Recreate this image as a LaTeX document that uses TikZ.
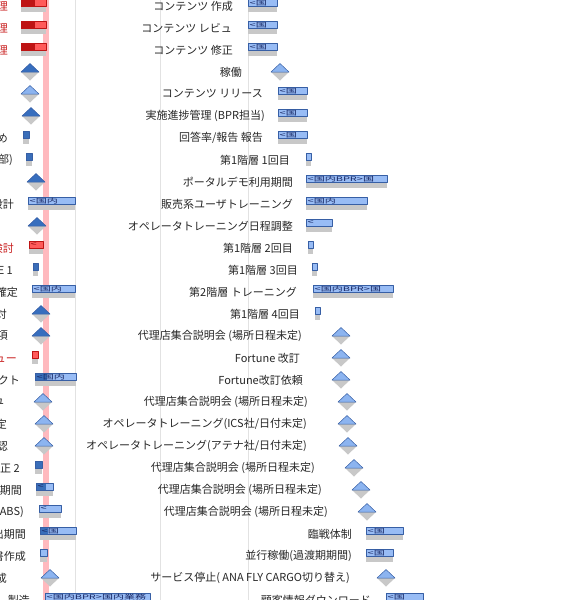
\documentclass[tikz,border=0pt]{standalone}
\usepackage{fontspec}
\newfontfamily\jpfont{Noto Sans CJK JP}
\usepackage{tikz}
\usetikzlibrary{calc}

\definecolor{barfill}{RGB}{152,188,245}
\definecolor{bardark}{RGB}{58,110,185}
\definecolor{barline}{RGB}{55,95,165}
\definecolor{bartext}{RGB}{25,40,100}
\definecolor{msfill}{RGB}{140,180,240}
\definecolor{msdark}{RGB}{55,110,190}
\definecolor{shadowgray}{RGB}{200,200,200}
\definecolor{redfill}{RGB}{255,90,90}
\definecolor{reddark}{RGB}{190,20,20}
\definecolor{labelred}{RGB}{200,30,30}
\definecolor{todayline}{RGB}{255,185,190}
\definecolor{gridline}{RGB}{226,226,226}

\begin{document}
\begin{tikzpicture}[x=1pt, y=-1pt, line join=round,
	lbl/.style={font=\jpfont\fontsize{11}{13}\selectfont, text=black!85, anchor=east, inner sep=0pt},
	redlbl/.style={lbl, text=labelred},
	bartxt/.style={font=\jpfont\fontsize{11}{11}\selectfont, text=bartext, anchor=west, inner sep=0pt},
	shadow/.style={fill=shadowgray},
	mslight/.style={fill=msfill, draw=barline, line width=0.5pt},
	msdeep/.style={fill=msdark, draw=barline, line width=0.5pt}]
				\useasboundingbox (0,0) rectangle (574,600);
				\clip (0,0) rectangle (574,600);
				
				% today line and grid
				\fill[todayline] (42.5,0) rectangle (48.5,600);
				\foreach \gx in {75,160,248} \draw[gridline, line width=1pt] (\gx,0) -- (\gx,600);
				
				% task names, middle column
				\foreach \r/\xe/\txt in {1/233/{コンテンツ 作成}, 2/232/{コンテンツ レビュ},
					3/233/{コンテンツ 修正}, 4/242/{稼働}, 5/263/{コンテンツ リリース},
					6/265/{実施進捗管理 (BPR担当)}, 7/263/{回答率/報告 報告}, 8/290/{第1階層 1回目},
					9/293/{ポータルデモ利用期間}, 10/293/{販売系ユーザトレーニング},
					11/293/{オペレータトレーニング日程調整}, 12/293/{第1階層 2回目},
					13/298/{第1階層 3回目}, 14/297/{第2階層 トレーニング}, 15/300/{第1階層 4回目},
					16/302/{代理店集合説明会 (場所日程未定)}, 17/300/{Fortune 改訂},
					18/303/{Fortune改訂依頼}, 19/308/{代理店集合説明会 (場所日程未定)},
					20/307/{オペレータトレーニング(ICS社/日付未定)},
					21/307/{オペレータトレーニング(アテナ社/日付未定)},
					22/315/{代理店集合説明会 (場所日程未定)}, 23/322/{代理店集合説明会 (場所日程未定)},
					24/328/{代理店集合説明会 (場所日程未定)}, 25/352/{臨戦体制},
					26/352/{並行稼働(過渡期期間)}, 27/350/{サービス停止( ANA FLY CARGO切り替え)},
					28/371/{顧客情報ダウンロード}}
					\node[lbl] (m\r) at (\xe,{6+22*(\r-1)}) {\txt};
				
				% task names, left column (cut at the edge)
				\foreach \r/\xe/\txt in {7/8/め, 8/13/{部)}, 10/14/設計, 13/13/{E 1}, 14/18/確定,
					15/7/対, 16/8/項, 18/20/クト, 19/5/ュ, 20/7/定, 21/8/認, 22/20/{正 2},
					23/22/期間, 24/24/{(ABS)}, 25/26/出期間, 26/26/書作成, 27/7/成, 28/30/製造}
					\node[lbl] (s\r) at (\xe,{6+22*(\r-1)}) {\txt};
				\foreach \r/\xe/\txt in {1/8/理, 2/8/理, 3/8/理, 12/14/検討, 17/17/ビュー}
					\node[redlbl] (s\r) at (\xe,{6+22*(\r-1)}) {\txt};
				
				% blue bars: name/row/start/progress/end/text
				\foreach \nm/\r/\xa/\xp/\xb/\txt in {c1/1/248/248/277/{<国}, c2/2/248/248/277/{<国},
					c3/3/248/248/277/{<国}, c5/5/278/278/307/{<国}, c6/6/278/278/307/{<国},
					c7/7/278/278/307/{<国}, c8/8/306/306/311/{}, c9/9/306/306/387/{<国内BPR>国},
					c10/10/306/306/367/{<国内}, c11/11/306/306/332/{<}, c12/12/308/308/313/{},
					c13/13/312/312/317/{}, c14/14/313/313/393/{<国内BPR>国}, c15/15/315/315/320/{},
					c25/25/366/366/403/{<国}, c26/26/366/366/393/{<国}, c28/28/386/386/423/{<国},
					a7/7/23/29/29/{}, a8/8/26/32/32/{}, a10/10/28/28/75/{<国内}, a13/13/33/38/38/{},
					a14/14/32/32/75/{<国内}, a18/18/35/47/76/{<国内}, a22/22/35/42/42/{},
					a23/23/36/46/53/{<}, a24/24/39/39/61/{<}, a25/25/40/48/76/{<国},
					a26/26/40/40/47/{}, a28/28/45/45/150/{<国内BPR>国内業務}}{
					\pgfmathsetmacro\yy{6+22*(\r-1)}
					\fill[shadow] (\xa,\yy) rectangle (\xb,\yy+5.5);
					\fill[barfill] (\xa,\yy-6.5) rectangle (\xb,\yy+0.5);
					\fill[bardark] (\xa,\yy-6.5) rectangle (\xp,\yy+0.5);
					\draw[barline, line width=0.6pt] (\xa,\yy-6.5) rectangle (\xb,\yy+0.5);
					\node[bartxt] (\nm) at (\xa+1.5,\yy-3) {\scalebox{1}[0.58]{\txt}};
				}
				
				% red bars
				\foreach \nm/\r/\xa/\xp/\xb/\txt in {r1/1/21/35/46/{}, r2/2/21/35/46/{},
					r3/3/21/35/46/{}, r12/12/29/29/43/{<}, r17/17/32/32/38/{}}{
					\pgfmathsetmacro\yy{6+22*(\r-1)}
					\fill[shadow] (\xa,\yy) rectangle (\xb,\yy+5.5);
					\fill[redfill] (\xa,\yy-6.5) rectangle (\xb,\yy+0.5);
					\fill[reddark] (\xa,\yy-6.5) rectangle (\xp,\yy+0.5);
					\draw[reddark, line width=0.6pt] (\xa,\yy-6.5) rectangle (\xb,\yy+0.5);
					\node[bartxt, text=reddark!80!black] (\nm) at (\xa+1.5,\yy-3) {\scalebox{1}[0.58]{\txt}};
				}
				
				% milestones
				\foreach \r/\cx/\kind in {4/280/mslight, 16/341/mslight, 17/341/mslight,
					18/341/mslight, 19/347/mslight, 20/347/mslight, 21/348/mslight, 22/354/mslight,
					23/361/mslight, 24/367/mslight, 27/386/mslight, 5/30/mslight, 19/43/mslight,
					20/44/mslight, 21/44/mslight, 27/50/mslight, 4/30/msdeep, 6/31/msdeep,
					9/36/msdeep, 11/37/msdeep, 15/41/msdeep, 16/41/msdeep}{
					\pgfmathsetmacro\yy{6+22*(\r-1)}
					\fill[shadow] (\cx-9,\yy) -- (\cx,\yy+8.5) -- (\cx+9,\yy) -- cycle;
					\filldraw[\kind] (\cx-9,\yy) -- (\cx,\yy-8.5) -- (\cx+9,\yy) -- cycle;
				}
			\end{tikzpicture}
\end{document}
